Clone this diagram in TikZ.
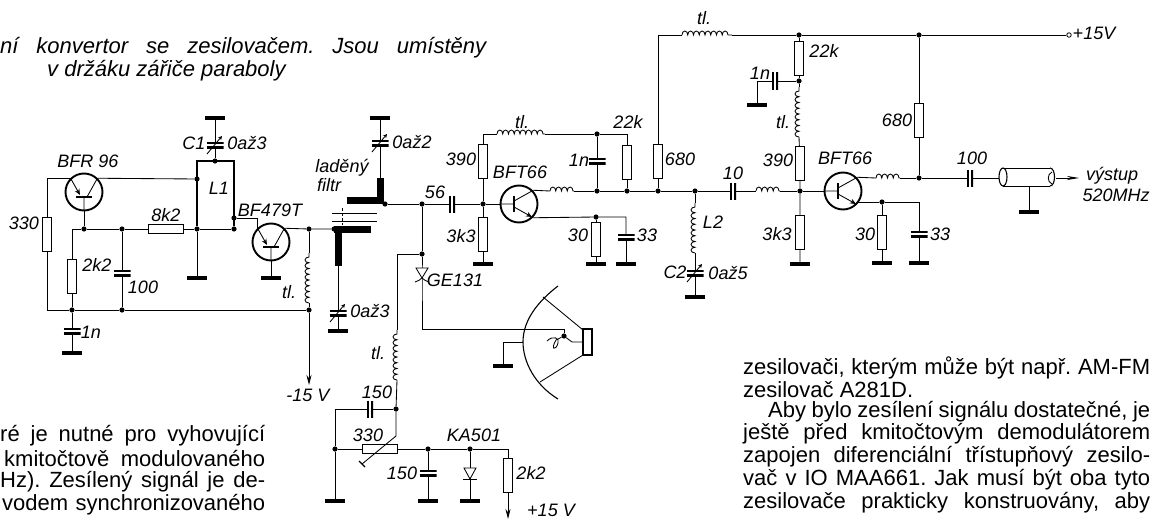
\documentclass[tikz,border=0pt]{standalone}
\usepackage{fontspec}
\setmainfont{Liberation Sans}
\usetikzlibrary{arrows.meta,decorations.pathmorphing}

\tikzset{
  wire/.style={line width=0.85pt},
  fat/.style={line width=1.9pt},
  dot/.style={circle,fill=black,inner sep=0,minimum size=5.2pt},
  opendot/.style={circle,draw,line width=0.8pt,fill=white,inner sep=0,minimum size=4.5pt},
  res/.style={draw,line width=0.85pt,inner sep=0,minimum width=9pt,minimum height=34pt},
  resh/.style={draw,line width=0.85pt,inner sep=0,minimum width=35pt,minimum height=9pt},
  capv/.style={inner sep=0,minimum width=17pt,minimum height=6pt,path picture={
    \draw[line width=3.4pt] (path picture bounding box.north west) -- (path picture bounding box.north east)
      (path picture bounding box.south west) -- (path picture bounding box.south east);}},
  caph/.style={inner sep=0,minimum width=6pt,minimum height=17pt,path picture={
    \draw[line width=3.4pt] (path picture bounding box.north west) -- (path picture bounding box.south west)
      (path picture bounding box.north east) -- (path picture bounding box.south east);}},
  gnd/.style={fill=black,inner sep=0,minimum width=20pt,minimum height=3.2pt},
  trans/.style={circle,draw,line width=1.9pt,inner sep=0,minimum size=37pt},
  choke/.style={wire,decorate,decoration={bumps,segment length=#1,amplitude=4pt}},
  choke/.default=11.5pt,
  lbl/.style={inner sep=0,font=\fontsize{18}{19}\selectfont\itshape},
  caption/.style={inner sep=0,anchor=west,font=\fontsize{22}{24}\selectfont\itshape},
  bodytxt/.style={inner sep=0,anchor=west,font=\fontsize{22}{24}\selectfont},
  trim/.pic={\draw[wire,-{Stealth[length=4pt,width=4pt]}] (-8,9) -- (7,-9);},
  npnbar/.pic={
    \draw[line width=2.4pt] (-5,-8) -- (-5,8);
    \draw[wire] (-18,0) -- (-5,0) (-5,-3) -- (13,-13);
    \draw[wire,-{Stealth[length=6pt,width=5pt]}] (-5,3) -- (13,13);},
  pnpbar/.pic={
    \draw[line width=2.4pt] (-5,-8) -- (-5,8);
    \draw[wire] (-18,0) -- (-5,0) (-5,3) -- (13,13);
    \draw[wire,-{Stealth[length=6pt,width=5pt]}] (13,-13) -- (-3,-4);},
}

\begin{document}
\frenchspacing
\begin{tikzpicture}[x=1pt,y=-1pt]
\useasboundingbox (0,0) rectangle (1151,519);

% junctions
\foreach \n/\x/\y in {ja/84/229,jb/122/229,jc/197/229,jd/234/229,je/197/179,jf/234/218,jg/215/161,
  jh/72/310,ji/122/310,jk/309/229,jl/309/310,jm/334/229,jn/385/204,jo/422/204,jp/422/254,jq/483/204,
  jr/597/134,js/597/191,jt/627/191,ju/658/191,jv/695/191,jw/596/217,jx/799/35,jy/919/35,jz/799/81,
  ka/800/191,kb/919/178,kc/882/202,kd/396/409,ke/335/449,kf/428/449,kg/470/449,kh/564/336}
  \node[dot] (\n) at (\x,\y) {};
\node[opendot] (vcc) at (1069,35) {};

% resistors
\foreach \n/\x/\y in {ra/47/234.5,rb/72/276.5,rc/483/161.5,rd/483/234,re/627/162.5,rf/658/161,rg/596/239.5,
  rh/799/58.5,ri/800/163.5,rj/800/232.5,rk/919/120.5,rl/882/232.5,rm/508/475}
  \node[res] (\n) at (\x,\y) {};
\node[resh] (rn) at (165.5,229) {};
\node[resh] (rpot) at (379.5,449) {};

% capacitors
\foreach \n/\x/\y in {ca/122/273,cb/72/331,cc/215/145,cd/338/313,ce/380/143,cf/597/161,cg/626/237,
  ch/695/273,ci/919/234,cj/428/473}
  \node[capv] (\n) at (\x,\y) {};
\foreach \n/\x/\y in {ck/452/204,cl/733/191,cm/775/81,cn/970/178,co/370/409}
  \node[caph] (\n) at (\x,\y) {};

% earth bars
\foreach \n/\x/\y in {ga/72/353,gb/215/118,gc/197/278,gd/271/278,ge/338/331,gf/380/118,gg/483/264,
  gh/596/264,gi/626/264,gj/695/297,gk/503/366,gl/757/105,gm/800/264,gn/882/263,go/919/263,gp/1029/212,
  gq/335/501,gr/428/501,gs/470/501}
  \node[gnd] (\n) at (\x,\y) {};

\node[trans] (ta) at (84,192) {};
\node[trans] (tb) at (271,242) {};
\node[trans] (tc) at (519,204) {};
\node[trans] (td) at (843,191) {};
\pic[rotate=90] at (ta) {pnpbar};
\pic[rotate=90] at (tb) {pnpbar};
\pic at (tc) {npnbar};
\pic at (td) {npnbar};

% ends of the chokes and free corners
\coordinate (la) at (309,303); \coordinate (lb) at (309,253);
\coordinate (lc) at (397,380); \coordinate (ld) at (397,330);
\coordinate (le) at (497,134); \coordinate (lf) at (545,134);
\coordinate (lg) at (550,191); \coordinate (lh) at (574,191);
\coordinate (li) at (695,253); \coordinate (lj) at (695,203);
\coordinate (lk) at (682,35);  \coordinate (ll) at (732,35);
\coordinate (lm) at (799,137); \coordinate (ln) at (799,87);
\coordinate (lo) at (756,191); \coordinate (lp) at (780,191);
\coordinate (lq) at (876,178); \coordinate (lr) at (900,178);
\coordinate (cnw) at (197,161); \coordinate (cne) at (234,161);
\coordinate (minus) at (309,385); \coordinate (plus) at (508,519);
\coordinate (outp) at (1079,178);
\coordinate (coaxl) at (999,178); \coordinate (coaxr) at (1056,178);
\coordinate (coaxb) at (1029,186);
\coordinate (tdem) at (857,202);
\coordinate (dioa) at (422,273);
\coordinate (feed) at (564,329); \coordinate (dish) at (523,342);
\coordinate (horn) at (583,342); \coordinate (potup) at (396,436);
\coordinate (potend) at (362,464);

% input stage
\draw[wire] (ta.135) -| (ra) (ra) |- (jh) -- (ji) -- (jl);
\draw[wire] (ta.45) -- (je);
\draw[wire] (ta.south) -- (ja);
\draw[wire] (ja -| rb) -- (ja) -- (jb) -- (rn) -- (jc) -- (jd);
\draw[wire] (jb) -- (ca) -- (ji);
\draw[wire] (ja -| rb) -- (rb) -- (jh) -- (cb) -- (ga);
\draw[fat] (jd) -- (cne) -- (cnw) -- (jc);
\draw[wire] (jc) -- (gc);
\draw[wire] (jg) -- (cc) -- (gb);
\draw[wire] (jf) -| (tb.135);
\draw[wire] (tb.45) -- (jk) -- (jm);
\draw[wire] (tb.south) -- (gd);
\draw[wire] (jk) -- (lb);
\draw[choke] (la) -- (lb);
\draw[wire] (la) -- (jl);
\draw[wire,-{Stealth[length=10pt,width=5pt]}] (jl) -- (minus);

% tuned filter
\draw[line width=7pt] (334,229) -- (371,229) (338,226) -- (338,266);
\draw[line width=7pt] (347,200) -- (383,200) (380,178) -- (380,203);
\draw[wire] (332,213) -- (377,213) (332,221) -- (377,221);
\draw[wire,densely dashed] (342,208) -- (342,225);
\draw[wire] (338,266) -- (cd) -- (ge);
\draw[wire] (380,178) -- (ce) -- (gf);

% first BFT66
\draw[wire] (jn) -- (jo) -- (ck) -- (jq) -- (tc.west);
\draw[wire] (jq) -- (rc) (jq) -- (rd) -- (gg);
\draw[wire] (rc) |- (le);
\draw[choke] (le) -- (lf);
\draw[wire] (lf) -- (jr) -| (re);
\draw[wire] (jr) -- (cf) -- (js);
\draw[wire] (re) -- (jt);
\draw[wire] (tc.45) -- (lg);
\draw[choke] (lg) -- (lh);
\draw[wire] (lh) -- (js) -- (jt) -- (ju) -- (jv) -- (cl) -- (lo);
\draw[wire] (tc.-45) -- (jw) -| (cg);
\draw[wire] (cg) -- (gi) (jw) -- (rg) -- (gh);
\draw[wire] (ju) -- (rf) |- (lk);
\draw[choke] (lk) -- (ll);
\draw[wire] (ll) -- (jx) -- (jy) -- (vcc);
\draw[wire] (jv) -- (lj);
\draw[choke] (li) -- (lj);
\draw[wire] (li) -- (ch) -- (gj);

% second BFT66
\draw[choke] (lo) -- (lp);
\draw[wire] (lp) -- (ka) -- (td.west);
\draw[wire] (jx) -- (rh) -- (jz) -- (ln);
\draw[choke] (lm) -- (ln);
\draw[wire] (lm) -- (ri) -- (ka) -- (rj) -- (gm);
\draw[wire] (jz) -- (cm) -| (gl);
\draw[wire] (td.45) -- (lq);
\draw[choke] (lq) -- (lr);
\draw[wire] (lr) -- (kb) -- (cn) -- (coaxl);
\draw[wire] (jy) -- (rk) -- (kb);
\draw[wire] (tdem) -- (kc) -| (ci);
\draw[wire] (ci) -- (go) (kc) -- (rl) -- (gn);
\draw[wire] (coaxb) -- (gp);
\draw[wire,-{Stealth[length=12pt,width=4pt]}] (coaxr) -- (outp);
\draw[wire] (1003,168) -- (1050,168) (1003,186) -- (1050,186);
\draw[line width=1.1pt] (1003,177) ellipse (4 and 9);
\draw[line width=1.1pt] (1050,168) .. controls (1056,168) and (1056,186) .. (1050,186);
\draw[wire] (1052,172) .. controls (1047,174) and (1047,182) .. (1052,184);

% varactor and dish
\draw[wire] (jo) -- (jp) -- (dioa) |- (feed) -- (kh);
\draw[wire] (jp) -| (ld);
\draw[choke] (lc) -- (ld);
\draw[wire] (lc) -- (kd);
\draw[wire,fill=white] (416,268) -- (428,268) -- (422,278) -- cycle;
\draw[wire] (415,282) .. controls (418,281) and (420,280) .. (422,278) .. controls (424,280) and (426,281) .. (429,282);
\draw[wire] (kh) -- (572,342) -- (horn);
\draw[wire] (547,341) .. controls (553,335) and (560,338) .. (558,343) .. controls (556,351) and (550,350) .. (556,340) -- (kh);
\draw[line width=1.1pt] (558,286) .. controls (532,306) and (523,325) .. (dish) .. controls (523,362) and (535,385) .. (558,399);
\draw[wire] (543,297) -- (583,330) (540,382) -- (583,355);
\draw[line width=1.2pt] (583,329) rectangle (592,355);
\draw[wire] (dish) -| (gk);

% bias network
\draw[wire] (kd) -- (co) -| (ke);
\draw[wire] (kd) -- (potup) -- (potend);
\draw[line width=1.2pt] (359,461) -- (365,467);
\draw[wire] (ke) -- (gq) (ke) -- (rpot) -- (kf) -- (kg) -| (rm);
\draw[wire] (kf) -- (cj) -- (gr);
\draw[wire] (kg) -- (gs);
\draw[wire,fill=white] (464,468) -- (476,468) -- (470,479) -- cycle;
\draw[wire] (463,479) -- (477,479);
\draw[wire,-{Stealth[length=10pt,width=5pt]}] (rm) -- (plus);

% component labels
\foreach \t/\x/\y [count=\i] in {BFR 96/88/161,330/24/223,8k2/166/215,2k2/97/265,100/143/287,1n/91/332,
  C1/194/143,0až3/247/143,L1/219/188,BF479T/270/210,tl./289/292,0až3/370/311,laděný/342/168,filtr/329/185,
  0až2/412/142,56/435/192,390/461/159,BFT66/520/172,3k3/461/236,tl./522/122,22k/628/122,1n/579/160,
  680/680/159,30/578/235,33/647/235,L2/713/222,C2/675/272,0až5/728/273,GE131/455/280,tl./378/353,10/733/173,
  tl./704/18,22k/824/51,1n/760/73,tl./783/122,680/897/120,390/778/160,BFT66/845/158,3k3/777/234,30/865/234,
  33/940/234,100/972/158,výstup/1112/176,520MHz/1116/195,+15V/1094/33,-15 V/308/395,150/377/392,330/368/435,
  KA501/474/435,150/402/473,2k2/531/473,+15 V/551/510}
  \node[lbl] (lab\i) at (\x,\y) {\t};

\pic at (cc) {trim};
\pic at (cd) {trim};
\pic at (ce) {trim};
\pic at (ch) {trim};

% running text
\node[caption] (capa) at (0,48) {\makebox[486pt][s]{ní konvertor se zesilovačem. Jsou umístěny}};
\node[caption] (capb) at (47,71) {v držáku zářiče paraboly};
\node[bodytxt] (lefta) at (0,436) {\makebox[265pt][s]{ré je nutné pro vyhovující}};
\node[bodytxt] (leftb) at (4,459) {\makebox[261pt][s]{kmitočtově modulovaného}};
\node[bodytxt] (leftc) at (0,482) {\makebox[265pt][s]{Hz). Zesílený signál je de-}};
\node[bodytxt] (leftd) at (2,505) {\makebox[263pt][s]{vodem synchronizovaného}};
\node[bodytxt] (righta) at (743,368) {\makebox[407pt][s]{zesilovači, kterým může být např. AM-FM}};
\node[bodytxt] (rightb) at (743,390) {zesilovač A281D.};
\node[bodytxt] (rightc) at (768,412) {\makebox[382pt][s]{Aby bylo zesílení signálu dostatečné, je}};
\node[bodytxt] (rightd) at (743,434) {\makebox[407pt][s]{ještě před kmitočtovým demodulátorem}};
\node[bodytxt] (righte) at (743,457) {\makebox[407pt][s]{zapojen diferenciální třístupňový zesilo-}};
\node[bodytxt] (rightf) at (743,480) {\makebox[407pt][s]{vač v IO MAA661. Jak musí být oba tyto}};
\node[bodytxt] (rightg) at (743,503) {\makebox[407pt][s]{zesilovače prakticky konstruovány, aby}};
\end{tikzpicture}
\end{document}
